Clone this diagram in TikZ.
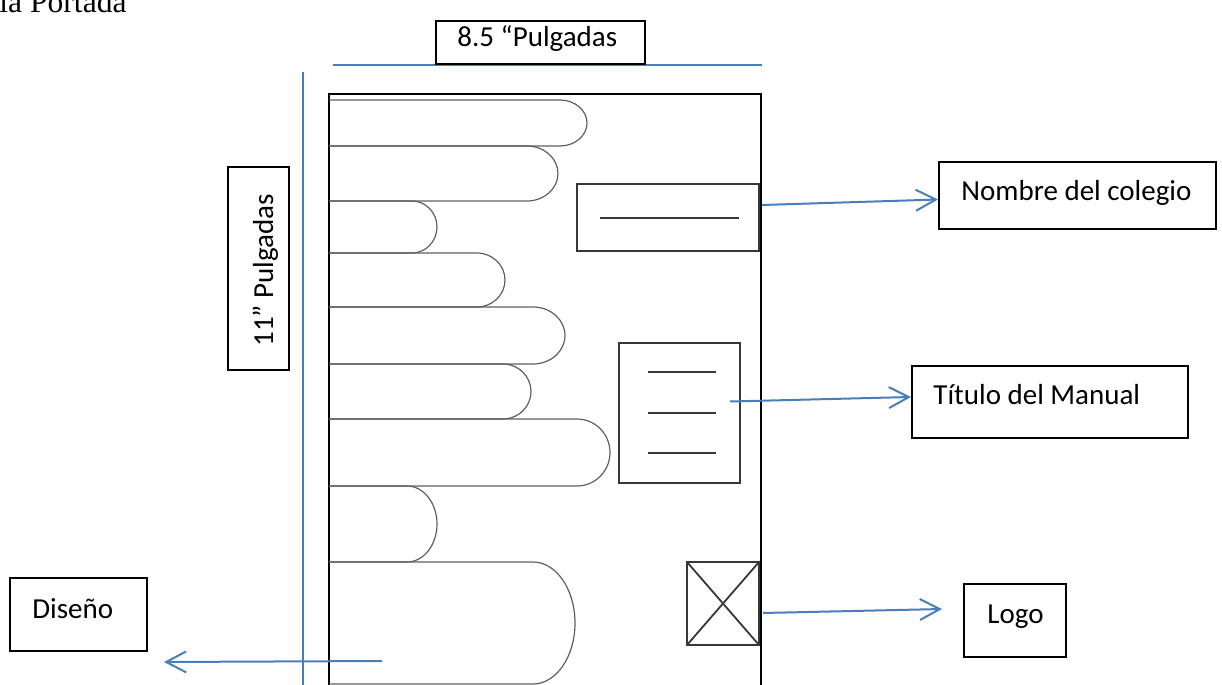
\documentclass[tikz,border=0pt]{standalone}
\usepackage{fontspec}
\setmainfont{Carlito}
\newfontfamily\timesfont{Liberation Serif}
\usetikzlibrary{arrows.meta, positioning, calc}
\definecolor{lineablue}{RGB}{74, 126, 187}
\definecolor{dedogray}{RGB}{95, 95, 95}
\definecolor{marcogray}{RGB}{55, 55, 55}

\tikzset{
  etiqueta/.style={draw=black, line width=1pt, inner sep=0pt},
  texto/.style={font=\fontsize{14.5}{17}\selectfont, inner sep=0pt, anchor=base west},
  flecha/.style={lineablue, line width=1pt, -{Straight Barb[length=10pt, width=10.5pt]}},
  medida/.style={lineablue, line width=1pt},
  dedo/.style={dedogray, line width=0.6pt},
  marco/.style={marcogray, line width=0.9pt}
}

\begin{document}
\begin{tikzpicture}[x=0.5pt, y=-0.5pt]
\useasboundingbox (0,0) rectangle (1222,685);

% Heading, cut at the top
\node[font=\timesfont\fontsize{15.8}{18}\selectfont, anchor=base east, inner sep=0pt] (portada) at (127,12) {la Portada};

% Width measure
\draw[medida] (333,65) -- (762,65);
\node[etiqueta, minimum width=104.5pt, minimum height=21.5pt] (ancho) at (540.5,42.5) {};
\node[texto] (ancho-txt) at (457,46.7) {8.5 “Pulgadas};

% Height measure
\draw[medida] (302.5,72) -- (302.5,690);
\node[etiqueta, minimum width=30.5pt, minimum height=101.5pt] (alto) at (258.5,268.5) {};
\node[texto, rotate=90] (alto-txt) at (273,347) {11” Pulgadas};

% Page
\draw[line width=1pt] (329,94) -- (761,94) -- (761,690);
\draw[line width=1.4pt] (329,690) -- (329,93.3);

% Design strips
\foreach \t/\b/\s/\r in {100/146/560/27, 146/201/527/31, 201/253/412/25,
                        253/307/477/28, 307/364/533/32, 364/419/503/28,
                        419/486/577/33, 486/562/407/30, 562/684/533/42} {
    \draw[dedo] (329,\t) -- (\s,\t)
        arc[start angle=90, end angle=-90, x radius=\r*0.5pt, y radius=(\b-\t)*0.25pt]
        -- (329,\b);
}

% School name block
\draw[marco] (577,184) rectangle (759,251);
\draw[marco] (600,218) -- (739,218);

% Title block
\draw[marco] (619,343) rectangle (740,483);
\foreach \y in {372, 413, 453} {
    \draw[marco] (648,\y) -- (716,\y);
}

% Logo block
\draw[marco] (687,562) rectangle (759,645);
\draw[marco] (687,562) -- (759,645);
\draw[marco] (759,562) -- (687,645);

% Labels
\node[etiqueta, minimum width=138.5pt, minimum height=33.5pt] (nombre) at (1077.5,195.5) {};
\node[texto] (nombre-txt) at (961,200) {Nombre del colegio};

\node[etiqueta, minimum width=138pt, minimum height=36pt] (manual) at (1050,402) {};
\node[texto] (manual-txt) at (933,404) {Título del Manual};

\node[etiqueta, minimum width=51pt, minimum height=36.5pt] (logo) at (1015,620.5) {};
\node[texto] (logo-txt) at (987,623) {Logo};

\node[etiqueta, minimum width=68.5pt, minimum height=36.5pt] (diseno) at (78.5,614.5) {};
\node[texto] (diseno-txt) at (32,618) {Diseño};

% Arrows
\coordinate (p-nombre) at (762,205);
\coordinate (p-manual) at (730,401.5);
\coordinate (p-logo) at (763,613);
\coordinate (p-diseno) at (382,661);

\draw[flecha] (p-nombre) -- ([yshift=-2pt]nombre.west);
\draw[flecha] (p-manual) -- ([yshift=2.5pt]manual.west);
\draw[flecha] (p-logo) -- ([xshift=-10.5pt, yshift=5.75pt]logo.west);
\draw[flecha] (p-diseno) -- ([xshift=8pt, yshift=-5pt]diseno.south east);
\end{tikzpicture}
\end{document}
